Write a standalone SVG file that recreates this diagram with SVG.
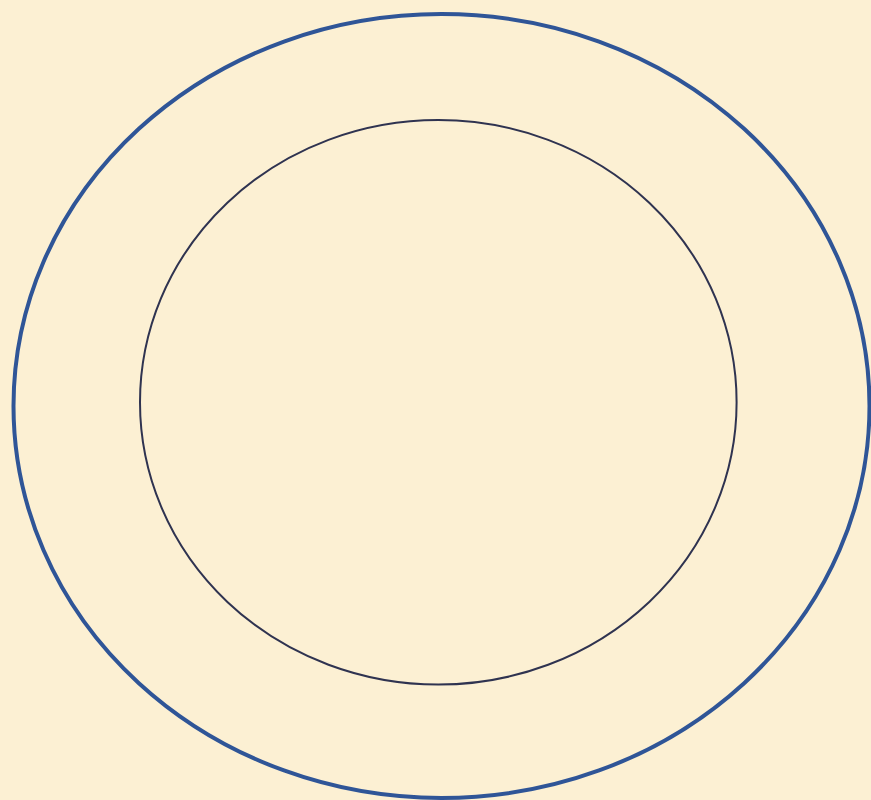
<svg xmlns="http://www.w3.org/2000/svg" width="871" height="800" viewBox="0 0 871 800">
  <style>
    .outer { fill: none; stroke: #2f5597; stroke-width: 4; }
    .inner { fill: none; stroke: #2f3350; stroke-width: 2; }
  </style>
  <rect x="0" y="0" width="871" height="800" fill="#fcf0d3"/>
  <g id="outer-ring">
    <ellipse class="outer" cx="441.5" cy="406" rx="428" ry="392"/>
  </g>
  <g id="inner-ring">
    <ellipse class="inner" cx="438.3" cy="402.3" rx="298.3" ry="282.3"/>
  </g>
  <g id="connectors"></g>
</svg>
